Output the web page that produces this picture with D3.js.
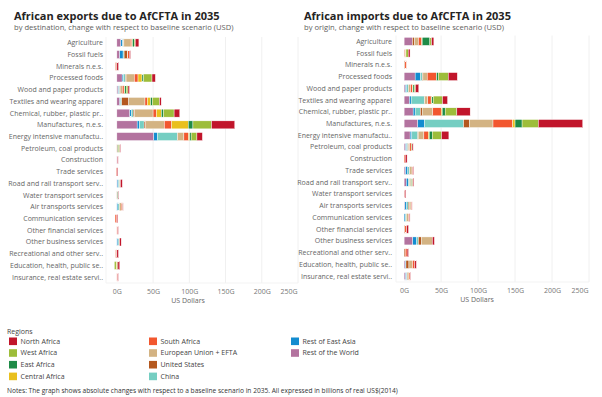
<!DOCTYPE html>
<html>
<head>
<meta charset="utf-8">
<title>AfCFTA exports and imports</title>
<script src="https://cdn.jsdelivr.net/npm/d3@7"></script>
<style>
  body { margin: 0; background: #fff; }
  text { font-family: "Segoe UI", "Open Sans", sans-serif; }
</style>
</head>
<body>
<script>
// categories (sectors), top to bottom
var categories = ["Agriculture", "Fossil fuels", "Minerals n.e.s.", "Processed foods",
  "Wood and paper products", "Textiles and wearing apparel", "Chemical, rubber, plastic pr..",
  "Manufactures, n.e.s.", "Energy intensive manufactu..", "Petroleum, coal products",
  "Construction", "Trade services", "Road and rail transport serv..", "Water transport services",
  "Air transports services", "Communication services", "Other financial services",
  "Other business services", "Recreational and other serv..", "Education, health, public se..",
  "Insurance, real estate servi.."];

// legend order
var regions = ["North Africa", "West Africa", "East Africa", "Central Africa", "South Africa",
  "European Union + EFTA", "United States", "China", "Rest of East Asia", "Rest of the World"];
var regionColors = ["#c1152b", "#9dbd3a", "#1e8b47", "#e9c01e", "#f2572f",
  "#d3b383", "#b4581f", "#75cec2", "#138cd0", "#b3739f"];

var tickValues = [0, 50, 100, 150, 200, 250];

// exports by destination, billions US$ (one value per sector)
var exNorthAfrica   = [5, 1.4, 2.3, 4.6, 2, 2.3, 7.8, 32, 7.5, 1, 1, 1.2, 2.5, 0.8, 0.7, 1.2, 1, 2, 2.2, 2.5, 1];
var exWestAfrica    = [1.4, 0, 0, 11.5, 2.4, 10, 14.7, 25.7, 8, 2, 0, 0, 0, 0, 0.5, 0, 0, 0, 0, -2.5, 0];
var exEastAfrica    = [2.3, 0, 0, 2.3, 2, 2.3, 2.8, 6.4, 2, 1, 0, 0, 0, 1, 0, 0, 0, 0, 0, 0, 0];
var exCentralAfrica = [1, 0, 0, 5.5, 1, 4.6, 6.9, 23, 1.5, 0, 0, 0, 0, 0, 0, 0, 0, 0, 0, -1, 0];
var exSouthAfrica   = [2.3, 2.3, -1, 5, 2.5, 3.2, 4.6, 10, 6.5, 1, 0, -1.2, 0.5, 0, 1.5, -2.5, 1, 1, -1, 0, 1];
var exEU            = [8.7, 0.5, 0, 11.5, 3, 22.5, 25.7, 25.7, 8.5, 0, 0, 0, 1, 0, 2.5, 0, 0, 0, 0, 0, 0];
var exUS            = [0.5, 4.6, -1.2, 0.8, 0.5, 9.6, 1.8, 2.3, 0.5, 0, 0, 0, 0, 1, 0, 0, 0, 0, -0.8, 1.5, 0];
var exChina         = [1.4, 1.4, 0, 2.8, 1.5, 1.8, 2.3, 6.4, 27.5, 0, 0, 0, 1.5, 0, 2, 0, 0, 1.5, 0, 0, 0];
var exEastAsia      = [2.3, 4.6, 0, 1.8, 1, 0.8, 2.3, 3.2, 5, 0, 0, 0, 1.5, 0, 1.5, 0, 0, 1.5, 0, 0, 0];
var exRestWorld     = [5.5, 4, 0, 7.3, 1.5, 4.1, 17.9, 28, 51, 0, 0.8, 0, 0.5, 0, 0, 0, 0, 0, 0, 0, 0];

// imports by origin, billions US$
var imNorthAfrica   = [3.1, 2.5, 0, 12.2, 4.5, 6.8, 18, 60, 9.9, 1.5, 2.5, 1, 1.3, 1.5, 0.5, 1, 2.4, 2.7, 1.9, 2, 0.5];
var imWestAfrica    = [2.3, 3, 0, 13.5, 1.5, 12.6, 15.8, 22, 12.6, 1.2, 0, 0, 1.5, 0, 0, 0, 0, 0, 0, 0, 0];
var imEastAfrica    = [10.4, 0, 0, 2.3, 1.8, 1.8, 4, 9.5, 4, 0, 0, 0, 1, 0, 0, 0, 0, 0, 0, 0, 0];
var imCentralAfrica = [0.5, 0.5, 0, 0.5, 0.5, 1, 1.4, 3.2, 1.4, 0, 0, 0, 0, 0, 0, 0, 0, 0, 0, 0, 0];
var imSouthAfrica   = [4.5, 1.5, 2, 12.2, 2.7, 4.5, 11.3, 26.6, 5.9, 2, 1.5, 1, 0, 0.7, 1, 1, 2.5, 0, 2.5, 3, 1.5];
var imEU            = [5.4, 0, 0, 5.8, 2.7, 4, 14.4, 32, 7.7, 2, 0, 3, 2, 0, 2.5, 3, 0, 14.9, 0, 5, 2.5];
var imUS            = [2.7, 0, 1, 1, 0.5, 0.5, 2.3, 7.7, 0.5, 0.5, 0, 0.7, 0, 0, 1.3, 0, 1, 4, 1.5, 4, 0];
var imChina         = [0, 0, 0, 2.3, 2, 18, 7.2, 53, 8.1, 1.5, 0, 2, 1.5, 0, 2, 1.5, 0, 2.2, 0, 0, 0.5];
var imEastAsia      = [0, 0, 0, 7.2, 1.8, 2.3, 2.7, 9, 2.3, 1.5, 0, 3, 2.7, 0, 2.5, 1.5, 0, 5.4, 0, 1, 1.5];
var imRestWorld     = [11.3, 0.5, 0, 14.9, 1.8, 7.2, 12.2, 18.5, 8.1, 2, 0, 2, 3, 0, 1, 0, 0, 11.7, 0, 1.5, 2];

var W = 602, H = 397;
var svg = d3.select("body").append("svg").attr("width", W).attr("height", H);

var color = d3.scaleOrdinal().domain(regions).range(regionColors);
var stackKeys = regions.slice().reverse(); // Rest of the World sits next to zero

function table(cols) {
  return categories.map(function(c, i) {
    var row = { category: c };
    regions.forEach(function(r, j) { row[r] = cols[j][i]; });
    return row;
  });
}

function panel(o) {
  var g = svg.append("g");
  var x = d3.scaleLinear().domain(o.domain).range(o.xr);
  var y = d3.scaleBand().domain(categories).range(o.yr).paddingInner(0.32).paddingOuter(0.16);

  g.append("text").attr("x", o.tx).attr("y", 19.5).attr("font-size", 11).attr("font-weight", 700)
    .attr("fill", "#252423").text(o.title);
  g.append("text").attr("x", o.tx).attr("y", 29.5).attr("font-size", 7.6)
    .attr("fill", "#605e5c").text(o.subtitle);

  // gridlines
  g.selectAll("line.grid").data(tickValues.slice(1)).enter().append("line")
    .attr("class", "grid")
    .attr("x1", function(d) { return x(d); }).attr("x2", function(d) { return x(d); })
    .attr("y1", o.yr[0]).attr("y2", o.yr[1])
    .attr("stroke", "#f0f0f0").attr("stroke-width", 1);
  g.append("line").attr("x1", o.xr[0]).attr("x2", o.xr[0]).attr("y1", o.yr[0]).attr("y2", o.yr[1])
    .attr("stroke", "#f3f3f3");
  g.append("line").attr("x1", o.xr[0]).attr("x2", o.xr[1]).attr("y1", o.yr[1]).attr("y2", o.yr[1])
    .attr("stroke", "#f3f3f3");

  // x axis
  var xAxis = d3.axisBottom(x).tickValues(tickValues).tickSize(0)
    .tickFormat(function(d) { return d + "G"; });
  var ax = g.append("g").attr("transform", "translate(0," + (o.yr[1] + 3) + ")").call(xAxis);
  ax.select(".domain").remove();
  ax.selectAll("text").attr("font-size", 7).attr("fill", "#777").attr("font-family", null);
  ax.selectAll(".tick").filter(function(d) { return d === 250; }).select("text")
    .attr("text-anchor", "end").attr("x", o.xr[1] - x(250) - 1);
  g.append("text").attr("x", o.axisTitleX).attr("y", o.yr[1] + 19.5).attr("text-anchor", "middle")
    .attr("font-size", 7).attr("fill", "#666").text("US Dollars");

  // y labels
  g.selectAll("text.cat").data(categories).enter().append("text")
    .attr("class", "cat")
    .attr("x", o.labelX).attr("y", function(d) { return y(d) + y.bandwidth() / 2; })
    .attr("dy", "0.35em").attr("text-anchor", "end")
    .attr("font-size", 7).attr("fill", "#666").text(function(d) { return d; });

  // stacked bars
  var series = d3.stack().keys(stackKeys).offset(d3.stackOffsetDiverging)(o.data);
  g.selectAll("g.series").data(series).enter().append("g")
    .attr("class", "series").attr("fill", function(d) { return color(d.key); })
    .selectAll("rect").data(function(d) { return d; }).enter().append("rect")
    .filter(function(d) { return d[1] !== d[0]; })
    .attr("x", function(d) { return x(Math.min(d[0], d[1])); })
    .attr("width", function(d) { return Math.abs(x(d[1]) - x(d[0])); })
    .attr("y", function(d) { return y(d.data.category); })
    .attr("height", y.bandwidth())
    .attr("stroke", "#fff").attr("stroke-width", 0.4);
}

panel({
  title: "African exports due to AfCFTA in 2035",
  subtitle: "by destination, change with respect to baseline scenario (USD)",
  tx: 14, labelX: 103, axisTitleX: 188,
  domain: [-15, 250], xr: [106, 298], yr: [37, 283],
  data: table([exNorthAfrica, exWestAfrica, exEastAfrica, exCentralAfrica, exSouthAfrica,
    exEU, exUS, exChina, exEastAsia, exRestWorld])
});

panel({
  title: "African imports due to AfCFTA in 2035",
  subtitle: "by origin, change with respect to baseline scenario (USD)",
  tx: 304, labelX: 392, axisTitleX: 477,
  domain: [-11, 250], xr: [396, 589], yr: [35.5, 282],
  data: table([imNorthAfrica, imWestAfrica, imEastAfrica, imCentralAfrica, imSouthAfrica,
    imEU, imUS, imChina, imEastAsia, imRestWorld])
});

// legend
var legend = svg.append("g");
legend.append("text").attr("x", 7).attr("y", 334).attr("font-size", 7).attr("fill", "#444").text("Regions");
var colX = [9, 149, 291];
var items = legend.selectAll("g.item").data(regions).enter().append("g")
  .attr("class", "item")
  .attr("transform", function(d, i) {
    var col = Math.floor(i / 4), row = i % 4;
    return "translate(" + colX[col] + "," + (341.3 + row * 11.7) + ")";
  });
items.append("rect").attr("x", 0).attr("y", -3.8).attr("width", 8).attr("height", 7.6)
  .attr("fill", function(d) { return color(d); });
items.append("text").attr("x", 11.5).attr("dy", "0.35em").attr("font-size", 7).attr("fill", "#444")
  .text(function(d) { return d; });

svg.append("text").attr("x", 7).attr("y", 392.5).attr("font-size", 6.6).attr("fill", "#333")
  .text("Notes: The graph shows absolute changes with respect to a baseline scenario in 2035. All expressed in billions of real US$(2014)");
</script>
</body>
</html>
